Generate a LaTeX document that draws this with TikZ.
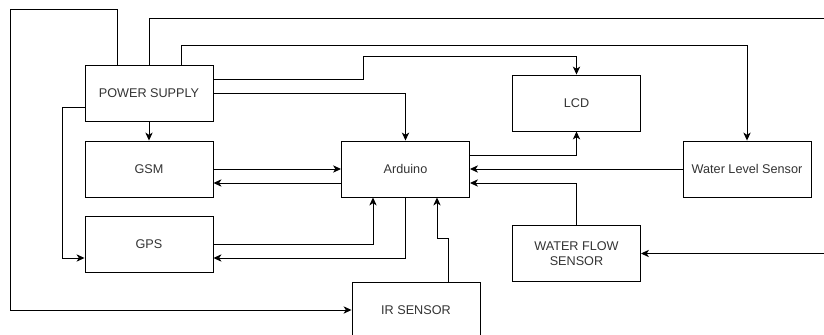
\documentclass[tikz,border=0pt]{standalone}
\usepackage{fontspec}
\setmainfont{Liberation Sans}
\usetikzlibrary{arrows.meta}

\begin{document}
\begin{tikzpicture}[x=0.3mm, y=-0.3mm, every node/.style={font=\fontsize{10.8}{12.5}\selectfont, text=black!80}, >={Stealth[length=2.4mm, width=2.2mm, inset=0.7mm]}, blk/.style={draw, line width=0.8pt, minimum width=38.4mm, minimum height=16.8mm, inner sep=0pt, align=center}, wire/.style={->, line width=0.8pt}]
	\useasboundingbox (0,0) rectangle (824,335);
	\node[blk] (ps) at (149,93) {POWER SUPPLY};
	\node[blk] (gsm) at (149,169) {GSM};
	\node[blk] (gps) at (149,244) {GPS};
	\node[blk] (ard) at (405.5,169) {Arduino};
	\node[blk] (lcd) at (576.5,103) {LCD};
	\node[blk] (wls) at (747,169) {Water Level Sensor};
	\node[blk] (wfs) at (576.5,253.5) {WATER FLOW\\SENSOR};
	\node[blk] (ir) at (416,310) {IR SENSOR};
	% power lines
	\draw[wire] ([xshift=-9.6mm]ps.north) |- (10,9) |- (ir.west);
	\draw[wire] (ps.north) |- (850,18) |- (wfs.east);
	\draw[wire] ([xshift=9.6mm]ps.north) -- ++(0,-19) -| (wls.north);
	\draw[wire] ([yshift=4.2mm]ps.east) -| (363,56) -| (lcd.north);
	\draw[wire] (ps.east) -| (ard.north);
	\draw[wire] (ps.south) -- (gsm.north);
	\draw[wire] ([yshift=-4.2mm]ps.west) -- ++(-22,0) |- ([yshift=-4.2mm]gps.west);
	% data lines
	\draw[wire] (gsm.east) -- (ard.west);
	\draw[wire] ([yshift=-4.2mm]ard.west) -- ([yshift=-4.2mm]gsm.east);
	\draw[wire] (gps.east) -| ([xshift=-9.75mm]ard.south);
	\draw[wire] (ard.south) |- ([yshift=-4.2mm]gps.east);
	\draw[wire] ([yshift=4.2mm]ard.east) -| (lcd.south);
	\draw[wire] (wls.west) -- (ard.east);
	\draw[wire] (wfs.north) |- ([yshift=-4.2mm]ard.east);
	\draw[wire] ([xshift=9.6mm]ir.north) -- ++(0,-43) -| ([xshift=9.45mm]ard.south);
\end{tikzpicture}
\end{document}
